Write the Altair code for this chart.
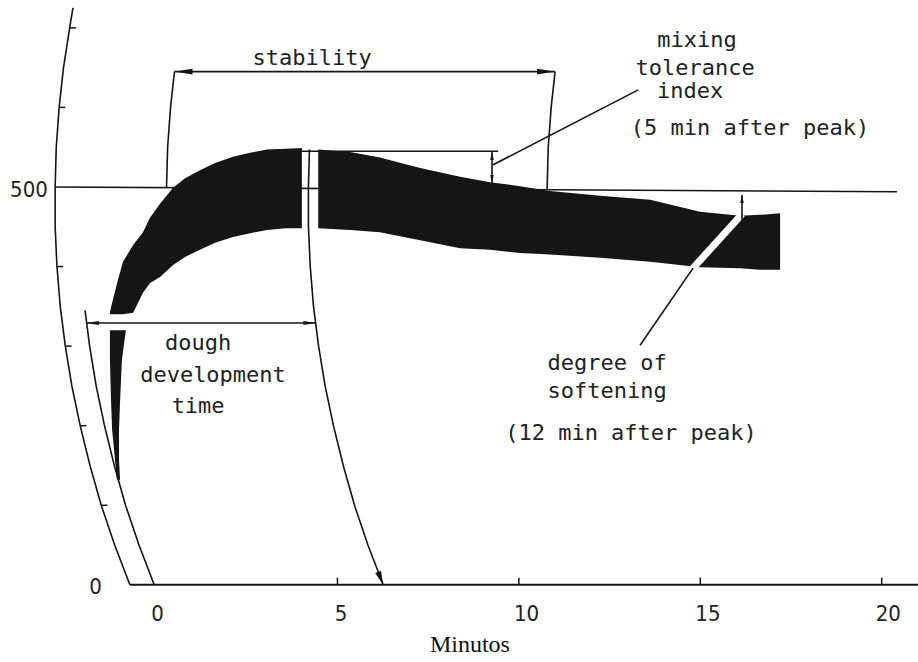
import altair as alt
import pandas as pd
import numpy as np

# ---------------- data ----------------
# farinograph band: time (min), upper edge, lower edge (BU)
BAND1_T = [-1.27, -1.19, -1.05, -0.91, -0.63, -0.36, -0.17, 0.11, 0.47, 0.80, 1.21, 1.63, 2.12, 2.59, 3.06, 3.56, 4.02]
BAND1_HI = [343, 358, 383, 406, 427, 443, 461, 479, 499, 511, 521, 530, 538, 543, 547, 548, 549]
BAND1_LO = [340, 340, 340, 340, 342, 367, 379, 387, 402, 412, 421, 430, 437, 442, 446, 448, 448]
BAND2_T = [4.47, 5.35, 6.17, 7.28, 8.38, 9.21, 10.03, 10.86, 12.24, 13.62, 14.99, 16.10, 16.65, 17.20]
BAND2_HI = [547, 544, 537, 524, 513, 506, 501, 495, 489, 484, 469, 464, 465, 467]
BAND2_LO = [448, 446, 443, 433, 423, 421, 417, 415, 411, 406, 399, 398, 396, 396]

# pen trace at the start (BU level, left and right edge in min)
TRACE_V = [320, 283, 232, 195, 157, 132]
TRACE_L = [-1.27, -1.27, -1.24, -1.21, -1.13, -1.08]
TRACE_R = [-0.83, -0.94, -0.99, -1.02, -1.02, -0.99]

# shape of the recorder's curved time lines: shift (min) at each BU level
ARC_V = [0, 50, 100, 150, 200, 250, 300, 350, 400, 450, 500, 550, 600, 650, 700, 725]
ARC_OFF = [0, -0.42, -0.79, -1.10, -1.37, -1.60, -1.78, -1.92, -2.01, -2.06, -2.06, -2.03, -1.95, -1.83, -1.66, -1.57]

# curved lines: name, foot time (min), from BU, to BU
ARCS = [("axis", -0.72, 0, 725), ("zero", -0.05, 0, 345), ("ddt", 6.26, 0, 547),
        ("stabL", 2.35, 500, 645), ("stabR", 12.84, 496, 645)]

X_TICKS = [5, 10, 15, 20]
X_LABELS = ["0", "5", "10", "15", "20"]
X_LABEL_T = [0.04, 5.10, 10.21, 15.21, 20.18]
Y_TICKS = [100, 200, 300, 400, 600, 700]

ANN_TEXT = ["stability", "mixing", "tolerance", "index", "(5 min after peak)",
            "dough", "development", "time", "degree of", "softening", "(12 min after peak)"]
ANN_T = [4.30, 14.91, 14.86, 14.72, 16.37, 1.16, 1.57, 1.16, 12.43, 12.43, 13.09]
ANN_V = [653, 676, 641, 612, 565, 295, 255, 216, 270, 235, 182]

XS = alt.Scale(domain=[-4.3, 21.0], nice=False, zero=False)
YS = alt.Scale(domain=[-97, 735], nice=False, zero=False)
INK = "#151515"


def off(v):
    return float(np.interp(v, ARC_V, ARC_OFF))


# ---------------- build tables ----------------
rows = []
for name, t0, v0, v1 in ARCS:
    vs = [v0] + [v for v in ARC_V if v0 < v < v1] + [v1]
    for k, v in enumerate(vs):
        rows.append(dict(id=name, t=t0 + off(v), v=v, k=k, w=1.6))


def seg(name, pts, w=1.6):
    for k, (t, v) in enumerate(pts):
        rows.append(dict(id=name, t=t, v=v, k=k, w=w))


axis_t0 = ARCS[0][1]
zero_t0 = ARCS[1][1]
ddt_t0 = ARCS[2][1]
seg("l500", [(axis_t0 + off(500), 500), (20.42, 494)])
seg("base", [(axis_t0, 0), (21.0, 0)], 2.0)
seg("stab", [(ARCS[3][1] + off(645), 645), (ARCS[4][1] + off(645), 645)])
seg("ddtarrow", [(zero_t0 + off(329), 329), (ddt_t0 + off(329), 329)])
seg("peak", [(4.0, 545), (9.43, 545)])
seg("mti", [(9.26, 544), (9.26, 505)])
seg("mtilead", [(9.29, 528), (13.29, 622)])
seg("dos", [(16.15, 490), (16.15, 436)])
seg("doslead", [(13.34, 301), (14.80, 398)])
lines = pd.DataFrame(rows)

band = pd.DataFrame(
    [dict(seg="a", t=t, hi=h, lo=l) for t, h, l in zip(BAND1_T, BAND1_HI, BAND1_LO)]
    + [dict(seg="b", t=t, hi=h, lo=l) for t, h, l in zip(BAND2_T, BAND2_HI, BAND2_LO)]
)
trace = pd.DataFrame(dict(v=TRACE_V, l=TRACE_L, r=TRACE_R))
stripe = pd.DataFrame(dict(t=[14.80, 16.15], v=[398, 466]))

LEFT = "M-1,0L1,-0.32L1,0.32Z"
RIGHT = "M1,0L-1,-0.32L-1,0.32Z"
UP = "M0,-1L-0.45,1L0.45,1Z"
DOWN = "M0,1L-0.45,-1L0.45,-1Z"
heads = pd.DataFrame([
    dict(t=ARCS[3][1] + off(645) + 0.25, v=645, s=LEFT, a=0, z=324),
    dict(t=ARCS[4][1] + off(645) - 0.25, v=645, s=RIGHT, a=0, z=324),
    dict(t=zero_t0 + off(329) + 0.17, v=329, s=LEFT, a=0, z=144),
    dict(t=ddt_t0 + off(329) - 0.17, v=329, s=RIGHT, a=0, z=144),
    dict(t=9.26, v=539, s=UP, a=0, z=64),
    dict(t=9.26, v=510, s=DOWN, a=0, z=64),
    dict(t=16.15, v=485, s=UP, a=0, z=64),
    dict(t=16.15, v=441, s=DOWN, a=0, z=64),
    dict(t=6.19, v=8, s=DOWN, a=339, z=196),
])

xticks = pd.DataFrame(dict(t=X_TICKS, v0=[0] * len(X_TICKS), v1=[9] * len(X_TICKS)))
yticks = pd.DataFrame(dict(v=Y_TICKS, t0=[axis_t0 + off(v) for v in Y_TICKS],
                           t1=[axis_t0 + off(v) + 0.17 for v in Y_TICKS]))
xlab = pd.DataFrame(dict(t=X_LABEL_T, v=[-37] * 5, s=X_LABELS))
ylab = pd.DataFrame(dict(t=[-2.98, -1.49], v=[496, -3], s=["500", "0"]))
ann = pd.DataFrame(dict(t=ANN_T, v=ANN_V, s=ANN_TEXT))
xtitle = pd.DataFrame(dict(t=[8.65], v=[-85], s=["Minutos"]))


def X(f):
    return alt.X(f, type="quantitative", scale=XS, axis=None)


def Y(f):
    return alt.Y(f, type="quantitative", scale=YS, axis=None)


band_l = alt.Chart(band).mark_area(color=INK).encode(
    x=X("t"), y=Y("hi"), y2="lo", detail="seg:N")
trace_l = alt.Chart(trace).mark_area(color=INK, orient="horizontal").encode(
    y=Y("v"), x=X("l"), x2="r")
stripe_l = alt.Chart(stripe).mark_line(color="white", strokeWidth=7).encode(
    x=X("t"), y=Y("v"))
lines_l = alt.Chart(lines).mark_line(color=INK).encode(
    x=X("t"), y=Y("v"), detail="id:N", order="k:Q",
    strokeWidth=alt.StrokeWidth("w:Q", scale=None))
heads_l = alt.Chart(heads).mark_point(filled=True, color=INK, opacity=1, strokeWidth=0).encode(
    x=X("t"), y=Y("v"), shape=alt.Shape("s:N", scale=None),
    angle=alt.Angle("a:Q", scale=None), size=alt.Size("z:Q", scale=None))
xt_l = alt.Chart(xticks).mark_rule(color=INK, strokeWidth=1.5).encode(
    x=X("t"), y=Y("v0"), y2="v1")
yt_l = alt.Chart(yticks).mark_rule(color=INK, strokeWidth=1.5).encode(
    x=X("t0"), x2="t1", y=Y("v"))
xlab_l = alt.Chart(xlab).mark_text(font="DejaVu Sans Condensed", fontSize=22, color="#222",
                                   baseline="middle", align="center").encode(
    x=X("t"), y=Y("v"), text="s:N")
ylab_l = alt.Chart(ylab).mark_text(font="DejaVu Sans Condensed", fontSize=22, color="#222",
                                   baseline="middle", align="right").encode(
    x=X("t"), y=Y("v"), text="s:N")
ann_l = alt.Chart(ann).mark_text(font="DejaVu Sans Mono", fontSize=22, color="#222",
                                 baseline="alphabetic", align="center").encode(
    x=X("t"), y=Y("v"), text="s:N")
title_l = alt.Chart(xtitle).mark_text(font="Liberation Serif", fontSize=24, color="#111",
                                      baseline="alphabetic", align="center").encode(
    x=X("t"), y=Y("v"), text="s:N")

chart = alt.layer(
    band_l, trace_l, stripe_l, lines_l, heads_l, xt_l, yt_l, xlab_l, ylab_l, ann_l, title_l
).properties(
    width=918, height=662, padding=0, background="white",
    autosize=alt.AutoSizeParams(type="none")
).configure_view(stroke=None)

chart.save("out.html", embed_options={"renderer": "svg", "actions": False})
